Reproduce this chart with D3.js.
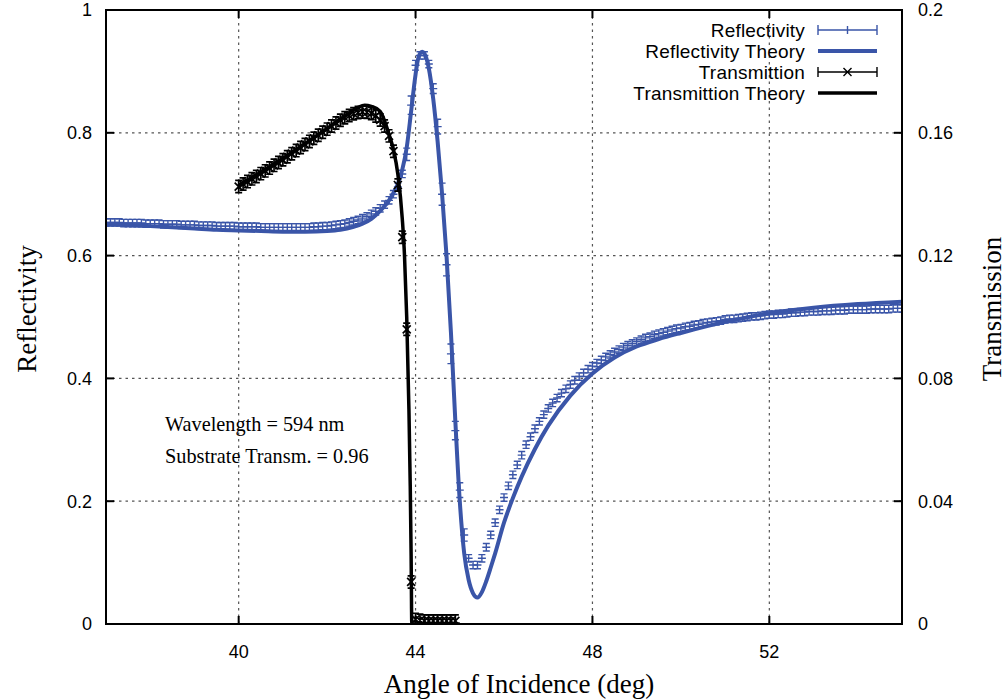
<!DOCTYPE html>
<html><head><meta charset="utf-8">
<script src="https://cdn.jsdelivr.net/npm/d3@7"></script>
<style>
body{margin:0;background:#fff;}
svg{display:block;}
.tick-label{font-family:"Liberation Sans",Arial,sans-serif;font-size:18px;fill:#000;}
.legend{font-family:"Liberation Sans",Arial,sans-serif;font-size:19px;letter-spacing:0.2px;fill:#000;}
.title{font-family:"Liberation Serif","Times New Roman",serif;font-size:27px;fill:#000;}
.note{font-family:"Liberation Serif","Times New Roman",serif;font-size:20.3px;fill:#000;}
</style>
</head><body>
<svg id="chart" width="1007" height="699"></svg>
<script>
// ---------- data ----------
const xTicks = [40, 44, 48, 52];
const yLeftTicks = [0, 0.2, 0.4, 0.6, 0.8, 1];
const yRightTicks = [0, 0.04, 0.08, 0.12, 0.16, 0.2];

// measured reflectivity, sampled every 0.1 deg from 37.0 to 55.0
const reflStart = 37.0, reflStep = 0.1;
const reflData = [
 0.654,0.654,0.654,0.654,0.653,0.653,0.653,0.653,0.653,0.652,
 0.652,0.652,0.652,0.651,0.651,0.651,0.651,0.650,0.650,0.650,
 0.650,0.649,0.649,0.649,0.649,0.648,0.648,0.648,0.648,0.648,
 0.647,0.647,0.647,0.647,0.647,0.646,0.646,0.646,0.646,0.646,
 0.646,0.646,0.646,0.646,0.646,0.646,0.646,0.647,0.647,0.648,
 0.648,0.649,0.650,0.651,0.652,0.654,0.656,0.658,0.661,0.664,
 0.668,0.672,0.677,0.683,0.690,0.700,0.712,0.733,0.765,0.845,
 0.910,0.926,0.926,0.912,0.872,0.810,0.700,0.585,0.440,0.315,
 0.218,0.145,0.107,0.096,0.096,0.107,0.125,0.145,0.165,0.186,
 0.206,0.225,0.243,0.259,0.275,0.292,0.305,0.318,0.330,0.341,
 0.351,0.360,0.368,0.376,0.383,0.390,0.397,0.403,0.409,0.415,
 0.420,0.425,0.430,0.435,0.439,0.443,0.447,0.451,0.454,0.457,
 0.460,0.463,0.466,0.468,0.471,0.473,0.475,0.477,0.479,0.481,
 0.482,0.484,0.485,0.487,0.488,0.490,0.491,0.492,0.493,0.494,
 0.496,0.497,0.497,0.498,0.499,0.500,0.501,0.501,0.502,0.503,
 0.504,0.504,0.505,0.505,0.506,0.507,0.507,0.508,0.508,0.509,
 0.509,0.509,0.510,0.510,0.510,0.511,0.511,0.511,0.512,0.512,
 0.512,0.512,0.512,0.513,0.513,0.513,0.513,0.513,0.514,0.514,
 0.514
];
const reflErrDefault = 0.006;
const reflErrAngles = [43.8, 43.9, 44.0, 44.4, 44.5, 44.6, 44.7, 44.8, 44.9, 45.0, 45.1];
const reflErrValues = [0.010, 0.015, 0.008, 0.008, 0.012, 0.018, 0.018, 0.016, 0.015, 0.012, 0.010];

// reflectivity theory
const reflTheoryX = [37.0,37.5,38.0,38.5,39.0,39.5,40.0,40.5,41.0,41.5,42.0,42.3,42.6,42.8,43.0,43.2,43.4,43.5,43.6,43.7,43.8,43.9,44.0,44.05,44.1,44.15,44.2,44.3,44.4,44.5,44.6,44.7,44.8,44.9,45.0,45.1,45.2,45.3,45.4,45.5,45.6,45.7,45.8,46.0,46.2,46.4,46.7,47.0,47.5,48.0,48.5,49.0,49.5,50.0,51.0,52.0,53.0,54.0,55.0];
const reflTheoryY = [0.651,0.650,0.648,0.646,0.644,0.642,0.641,0.640,0.639,0.639,0.640,0.642,0.647,0.652,0.660,0.673,0.690,0.702,0.717,0.740,0.776,0.835,0.895,0.918,0.929,0.932,0.929,0.905,0.855,0.785,0.700,0.600,0.475,0.330,0.200,0.115,0.072,0.050,0.043,0.052,0.070,0.092,0.115,0.165,0.205,0.240,0.285,0.323,0.372,0.408,0.434,0.452,0.464,0.474,0.492,0.506,0.515,0.521,0.525];

// measured transmission, every 0.1 deg from 40.0 to 44.9
const transStart = 40.0, transStep = 0.1;
const transData = [
 0.1425,0.1433,0.1441,0.1450,0.1458,0.1467,0.1476,0.1485,0.1494,0.1503,
 0.1512,0.1522,0.1532,0.1542,0.1552,0.1562,0.1572,0.1582,0.1592,0.1602,
 0.1612,0.1622,0.1632,0.1641,0.1649,0.1656,0.1662,0.1666,0.1668,0.1667,
 0.1663,0.1655,0.1642,0.1622,0.1590,0.1540,0.1430,0.1260,0.0960,0.0137,
 0.0015,0.0012,0.0010,0.0010,0.0010,0.0010,0.0010,0.0010,0.0010,0.0010
];
const transErr = 0.002;

// transmission theory
const transTheoryX = [40.0,40.5,41.0,41.5,42.0,42.3,42.5,42.7,42.85,43.0,43.2,43.4,43.5,43.6,43.7,43.75,43.8,43.85,43.88,43.9,43.915,44.5,45.0];
const transTheoryY = [0.1430,0.1472,0.1517,0.1565,0.1614,0.1645,0.1665,0.1683,0.1690,0.1686,0.1670,0.1595,0.1545,0.1465,0.1320,0.1200,0.1000,0.0700,0.0450,0.0220,0.0,0.0,0.0];

const legendLabels = ["Reflectivity", "Reflectivity Theory", "Transmittion", "Transmittion Theory"];
const noteLines = ["Wavelength = 594 nm", "Substrate Transm. = 0.96"];
const xTitle = "Angle of Incidence (deg)";
const yLeftTitle = "Reflectivity";
const yRightTitle = "Transmission";

// ---------- layout ----------
const blue = "#3a55a8";
const L = 106, R = 902, T = 10, B = 624;
const svg = d3.select("#chart");
const x = d3.scaleLinear().domain([37, 55]).range([L, R]);
const y = d3.scaleLinear().domain([0, 1]).range([B, T]);
const y2 = d3.scaleLinear().domain([0, 0.2]).range([B, T]);

// grid
const grid = svg.append("g").attr("stroke", "#555").attr("stroke-width", 1.2).attr("stroke-dasharray", "2.5,4");
grid.selectAll("line.gx").data(xTicks).join("line")
  .attr("x1", d => x(d)).attr("x2", d => x(d)).attr("y1", T).attr("y2", B);
grid.selectAll("line.gy").data(yLeftTicks.filter(d => d > 0 && d < 1)).join("line")
  .attr("class","gy").attr("x1", L).attr("x2", R).attr("y1", d => y(d)).attr("y2", d => y(d));

// clip
svg.append("clipPath").attr("id", "clip").append("rect")
  .attr("x", L).attr("y", T).attr("width", R - L).attr("height", B - T);
const plot = svg.append("g").attr("clip-path", "url(#clip)");

// reflectivity data
const reflPts = reflData.map((v, i) => {
  const a = +(reflStart + i * reflStep).toFixed(1);
  const k = reflErrAngles.indexOf(a);
  return {a, v, e: k >= 0 ? reflErrValues[k] : reflErrDefault};
});
const rg = plot.append("g").attr("stroke", blue).attr("stroke-width", 1.4).attr("fill", "none");
const cap = 3.5, pt = 4;
reflPts.forEach(p => {
  const cx = x(p.a), cy = y(p.v), y1 = y(p.v - p.e), y0 = y(p.v + p.e);
  rg.append("path").attr("d",
    `M${cx},${y0}V${y1}M${cx-cap},${y0}H${cx+cap}M${cx-cap},${y1}H${cx+cap}M${cx-pt},${cy}H${cx+pt}`);
});

// reflectivity theory
const lineR = d3.line().x(d => x(d[0])).y(d => y(d[1])).curve(d3.curveMonotoneX);
plot.append("path").datum(reflTheoryX.map((a, i) => [a, reflTheoryY[i]]))
  .attr("d", lineR).attr("fill", "none").attr("stroke", blue).attr("stroke-width", 4).attr("stroke-linejoin","round");

// transmission data
const transPts = transData.map((v, i) => ({a: +(transStart + i * transStep).toFixed(1), v}));
const tg = plot.append("g").attr("stroke", "#000").attr("stroke-width", 1.7).attr("fill", "none");
const tx = 4;
transPts.forEach(p => {
  const cx = x(p.a), cy = y2(p.v), y1 = y2(p.v - transErr), y0 = y2(p.v + transErr);
  tg.append("path").attr("d",
    `M${cx},${y0}V${y1}M${cx-cap},${y0}H${cx+cap}M${cx-cap},${y1}H${cx+cap}` +
    `M${cx-tx},${cy-tx}L${cx+tx},${cy+tx}M${cx-tx},${cy+tx}L${cx+tx},${cy-tx}`);
});

// transmission theory
const lineT = d3.line().x(d => x(d[0])).y(d => y2(d[1])).curve(d3.curveMonotoneX);
plot.append("path").datum(transTheoryX.map((a, i) => [a, transTheoryY[i]]))
  .attr("d", lineT).attr("fill", "none").attr("stroke", "#000").attr("stroke-width", 3.5).attr("stroke-linejoin","round");

// frame
svg.append("rect").attr("x", L).attr("y", T).attr("width", R - L).attr("height", B - T)
  .attr("fill", "none").attr("stroke", "#000").attr("stroke-width", 2);

// ticks (inward)
const tl = 8;
const tk = svg.append("g").attr("stroke", "#000").attr("stroke-width", 2);
xTicks.forEach(d => {
  tk.append("line").attr("x1", x(d)).attr("x2", x(d)).attr("y1", B).attr("y2", B - tl);
  tk.append("line").attr("x1", x(d)).attr("x2", x(d)).attr("y1", T).attr("y2", T + tl);
});
yLeftTicks.forEach(d => {
  tk.append("line").attr("x1", L).attr("x2", L + tl).attr("y1", y(d)).attr("y2", y(d));
});
yRightTicks.forEach(d => {
  tk.append("line").attr("x1", R).attr("x2", R - tl).attr("y1", y2(d)).attr("y2", y2(d));
});

// tick labels
svg.selectAll("text.xl").data(xTicks).join("text").attr("class", "tick-label")
  .attr("x", d => x(d)).attr("y", B + 34).attr("text-anchor", "middle").text(d => d);
svg.selectAll("text.yl").data(yLeftTicks).join("text").attr("class", "tick-label")
  .attr("x", L - 14).attr("y", d => y(d)).attr("dy", "0.36em").attr("text-anchor", "end").text(d => d);
svg.selectAll("text.yr").data(yRightTicks).join("text").attr("class", "tick-label")
  .attr("x", R + 16).attr("y", d => y2(d)).attr("dy", "0.36em").attr("text-anchor", "start").text(d => d);

// titles
svg.append("text").attr("class", "title").attr("x", (L + R) / 2 + 15).attr("y", 693)
  .attr("text-anchor", "middle").text(xTitle);
svg.append("text").attr("class", "title").attr("transform", `translate(36,${(T + B) / 2 - 8}) rotate(-90)`)
  .attr("text-anchor", "middle").text(yLeftTitle);
svg.append("text").attr("class", "title").attr("transform", `translate(1001,${(T + B) / 2 - 8}) rotate(-90)`)
  .attr("text-anchor", "middle").text(yRightTitle);

// notes
noteLines.forEach((t, i) => {
  svg.append("text").attr("class", "note").attr("x", 165).attr("y", 431 + i * 32).text(t);
});

// legend
const lgX0 = 818, lgX1 = 877, lgTextX = 805;
const rowY = [30, 51, 72, 93];
legendLabels.forEach((t, i) => {
  const cy = rowY[i];
  svg.append("text").attr("class", "legend").attr("x", lgTextX).attr("y", cy).attr("dy", "0.35em")
    .attr("text-anchor", "end").text(t);
  const g = svg.append("g").attr("fill", "none");
  if (i === 0) {
    g.attr("stroke", blue).attr("stroke-width", 1.4);
    g.append("path").attr("d", `M${lgX0},${cy}H${lgX1}M${lgX0},${cy-5}V${cy+5}M${lgX1},${cy-5}V${cy+5}M${(lgX0+lgX1)/2},${cy-4}V${cy+4}`);
  } else if (i === 1) {
    g.append("line").attr("x1", lgX0).attr("x2", lgX1).attr("y1", cy).attr("y2", cy).attr("stroke", blue).attr("stroke-width", 4);
  } else if (i === 2) {
    const m = (lgX0 + lgX1) / 2;
    g.attr("stroke", "#000").attr("stroke-width", 1.4);
    g.append("path").attr("d", `M${lgX0},${cy}H${lgX1}M${lgX0},${cy-5}V${cy+5}M${lgX1},${cy-5}V${cy+5}M${m-4},${cy-4}L${m+4},${cy+4}M${m-4},${cy+4}L${m+4},${cy-4}`);
  } else {
    g.append("line").attr("x1", lgX0).attr("x2", lgX1).attr("y1", cy).attr("y2", cy).attr("stroke", "#000").attr("stroke-width", 3.5);
  }
});
</script>
</body></html>
